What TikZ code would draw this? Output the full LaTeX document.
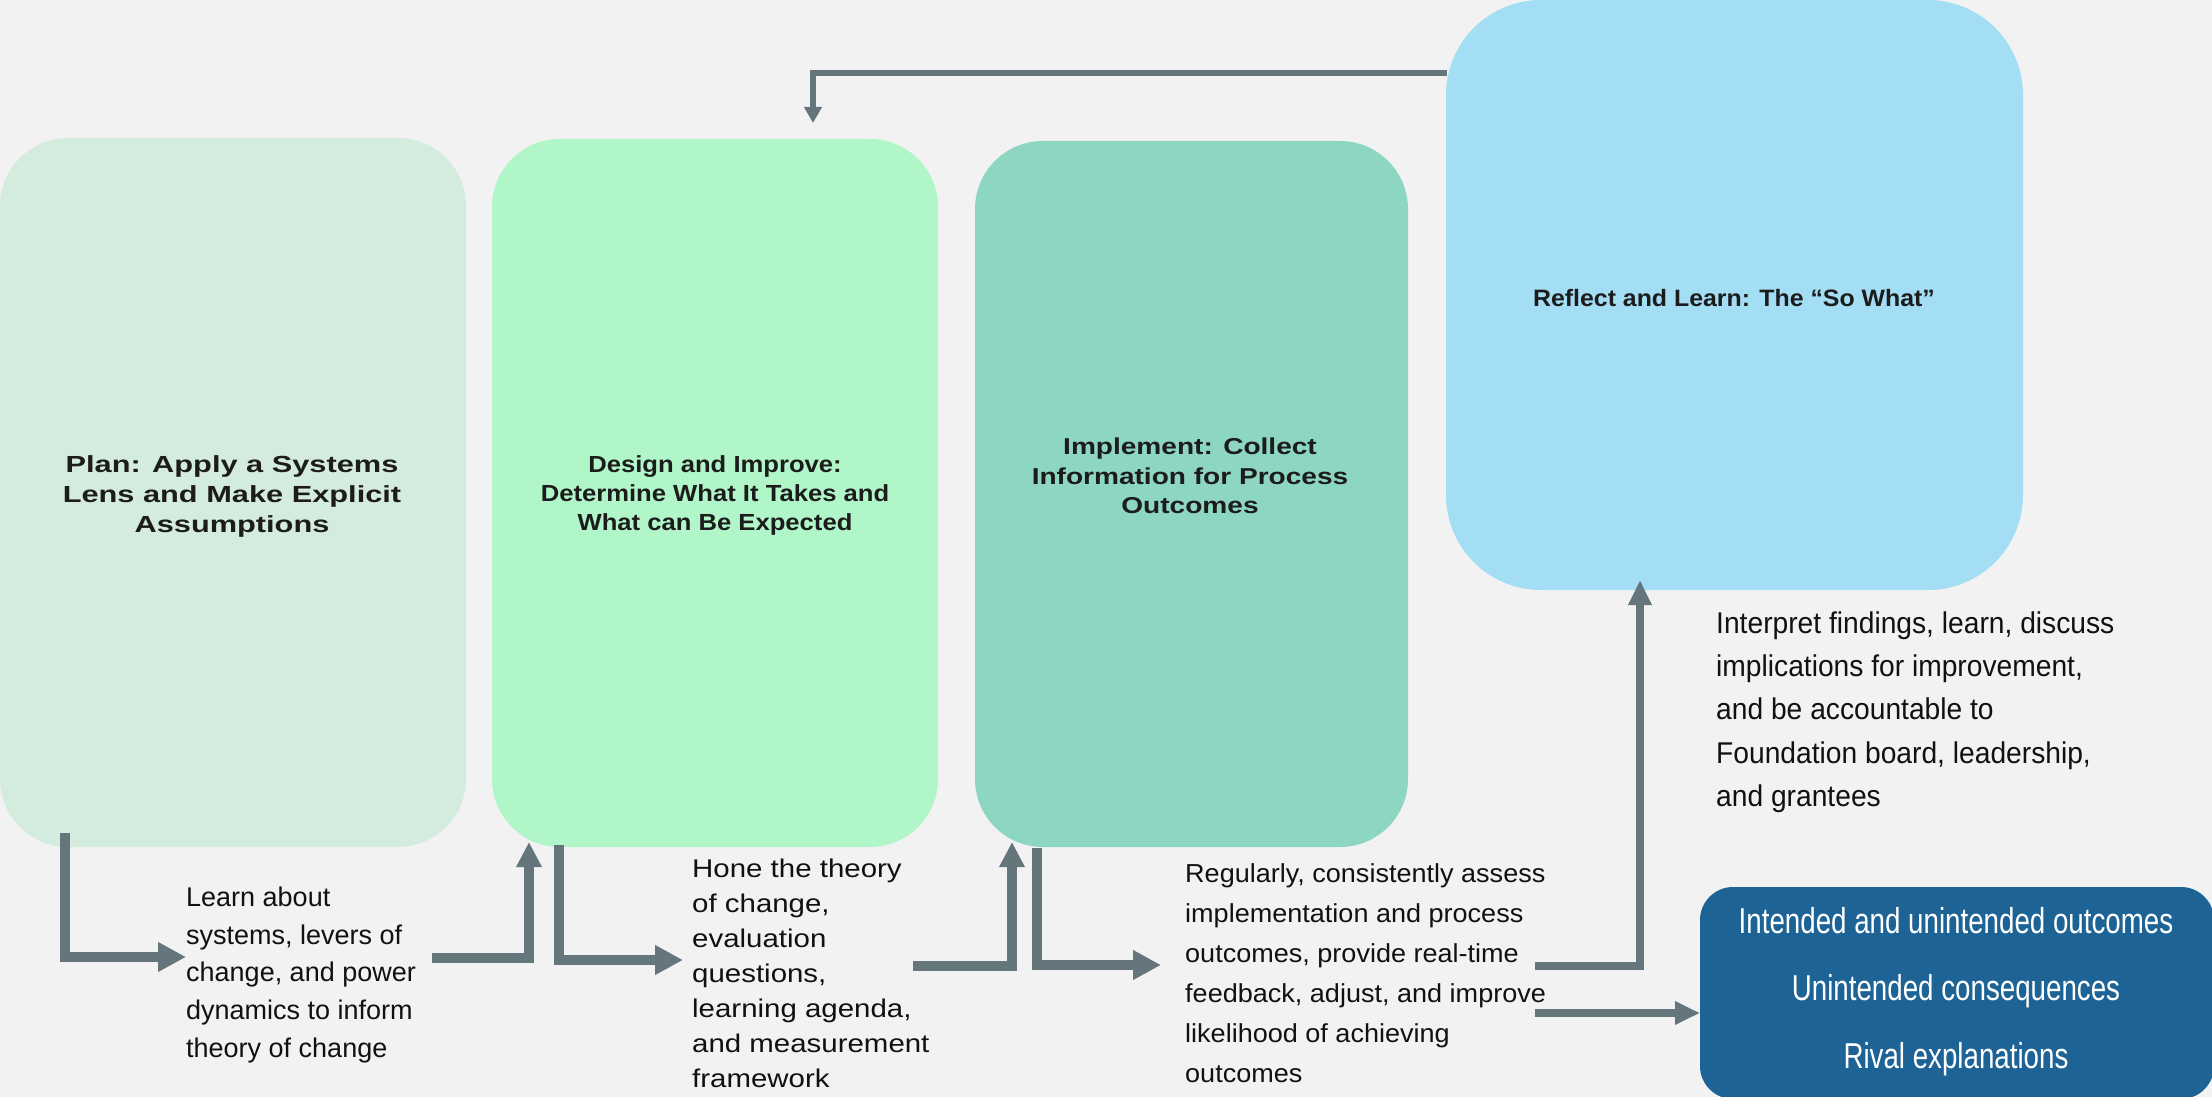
\documentclass[tikz,border=0pt]{standalone}
\usepackage{fontspec}
\setmainfont{Liberation Sans}
\newfontfamily\ftPlan[FakeStretch=1.32]{Liberation Sans}
\newfontfamily\ftDesign[FakeStretch=1.10]{Liberation Sans}
\newfontfamily\ftImpl[FakeStretch=1.22]{Liberation Sans}
\newfontfamily\ftRefl[FakeStretch=1.05]{Liberation Sans}
\newfontfamily\ftTa{Liberation Sans}
\newfontfamily\ftTb[FakeStretch=1.15]{Liberation Sans}
\newfontfamily\ftTc[FakeStretch=1.04]{Liberation Sans}
\newfontfamily\ftTd[FakeStretch=0.94]{Liberation Sans}
\newfontfamily\ftOut[FakeStretch=0.77]{Liberation Sans}
\usetikzlibrary{arrows.meta}
\definecolor{bgc}{HTML}{F2F2F2}
\definecolor{planc}{HTML}{D4ECDD}
\definecolor{designc}{HTML}{B0F6C8}
\definecolor{implc}{HTML}{8DD6C2}
\definecolor{reflc}{HTML}{A4DEF4}
\definecolor{outc}{HTML}{1D6396}
\definecolor{arrc}{HTML}{64757C}
\definecolor{titlec}{HTML}{1C1C1C}
\definecolor{bodyc}{HTML}{111111}
\begin{document}
\begin{tikzpicture}[x=1pt,y=-1pt,
  phase/.style={rectangle, rounded corners=68pt, inner sep=0pt, outer sep=0pt, draw=none},
  title/.style={anchor=north, align=center, inner sep=0pt, text=titlec},
  body/.style={anchor=north west, align=left, inner sep=0pt, text=bodyc},
  conn/.style={draw=arrc, line width=10pt},
  connthin/.style={draw=arrc, line width=8.5pt},
  tipbig/.style={-{Triangle[length=28pt,width=28pt]}},
  tipup/.style={-{Triangle[length=25pt,width=24pt]}},
  tipmid/.style={-{Triangle[length=25pt,width=22pt]}},
  tipsmall/.style={-{Triangle[length=16pt,width=17pt]}}]
\useasboundingbox (0,0) rectangle (2212,1097);
\fill[bgc] (0,0) rectangle (2212,1097);

% phase boxes
\node[phase, fill=planc, minimum width=466pt, minimum height=709pt] (plan) at (233,492.5) {};
\node[phase, fill=designc, minimum width=446pt, minimum height=708pt] (design) at (715,493) {};
\node[phase, fill=implc, minimum width=433pt, minimum height=706pt] (impl) at (1191.5,494) {};
\node[phase, rounded corners=95pt, fill=reflc, minimum width=577pt, minimum height=590pt] (refl) at (1734.5,295) {};
\node[phase, rounded corners=33pt, fill=outc, minimum width=514pt, minimum height=212pt] (outb) at (1957,993) {};

% titles
\node[title, font=\ftPlan\bfseries\fontsize{23.3pt}{30pt}\selectfont] (plant) at (232,455)
  {Plan: Apply a Systems\\Lens and Make Explicit\\Assumptions};
\node[title, font=\ftDesign\bfseries\fontsize{23.3pt}{29pt}\selectfont] (designt) at (715,455)
  {Design and Improve:\\Determine What It Takes and\\What can Be Expected};
\node[title, font=\ftImpl\bfseries\fontsize{23pt}{29.7pt}\selectfont] (implt) at (1190,437.5)
  {Implement: Collect\\Information for Process\\Outcomes};
\node[anchor=base, inner sep=0pt, text=titlec, font=\ftRefl\bfseries\fontsize{23.7pt}{29pt}\selectfont] (reflt) at (1734,306)
  {Reflect and Learn: The “So What”};

% body texts
\node[body, font=\ftTa\fontsize{27pt}{37.7pt}\selectfont] (t1) at (186,886.6)
  {Learn about\\systems, levers of\\change, and power\\dynamics to inform\\theory of change};
\node[body, font=\ftTb\fontsize{25.6pt}{35pt}\selectfont] (t2) at (692,858.6)
  {Hone the theory\\of change,\\evaluation\\questions,\\learning agenda,\\and measurement\\framework};
\node[body, font=\ftTc\fontsize{26pt}{40pt}\selectfont] (t3) at (1185,863.3)
  {Regularly, consistently assess\\implementation and process\\outcomes, provide real-time\\feedback, adjust, and improve\\likelihood of achieving\\outcomes};
\node[body, font=\ftTd\fontsize{30pt}{43.3pt}\selectfont] (t4) at (1716,611.4)
  {Interpret findings, learn, discuss\\implications for improvement,\\and be accountable to\\Foundation board, leadership,\\and grantees};
\node[anchor=north, align=center, inner sep=0pt, text=white, font=\ftOut\fontsize{36pt}{67.5pt}\selectfont] (outt) at (1956,907)
  {Intended and unintended outcomes\\Unintended consequences\\Rival explanations};

% connector points
\coordinate (a1a) at (65,833);
\coordinate (a1b) at (186,957);
\coordinate (a2a) at (432,958);
\coordinate (a2b) at (529,842);
\coordinate (a3a) at (559,845);
\coordinate (a3b) at (683,960);
\coordinate (a4a) at (913,966);
\coordinate (a4b) at (1012,842);
\coordinate (a5a) at (1037,848);
\coordinate (a5b) at (1161,965);
\coordinate (a6a) at (1535,966);
\coordinate (a6b) at (1640,580);
\coordinate (a7a) at (1535,1013);
\coordinate (a7b) at (1700,1013);
\coordinate (fba) at (1447,73);
\coordinate (fbb) at (813,123);

% connectors
\draw[conn, tipbig] (a1a) |- (a1b);
\draw[conn, tipup] (a2a) -| (a2b);
\draw[conn, tipbig] (a3a) |- (a3b);
\draw[conn, tipup] (a4a) -| (a4b);
\draw[conn, tipbig] (a5a) |- (a5b);
\draw[connthin, tipmid] (a6a) -| (a6b);
\draw[connthin, tipmid] (a7a) -- (a7b);
\draw[draw=arrc, line width=6pt, tipsmall] (fba) -| (fbb);
\end{tikzpicture}
\end{document}
